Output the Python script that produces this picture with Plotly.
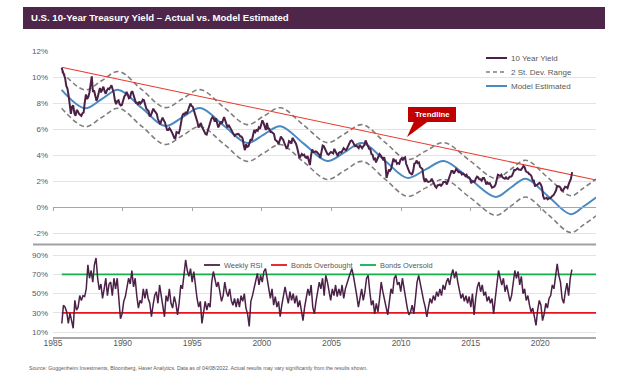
import pandas as pd
import plotly.graph_objects as go

# ---------------- DATA ----------------
# 10-year Treasury yield, monthly (Aug 1985 .. Apr 2022), %
yield_10y = [
    10.75, 10.45, 10.3, 9.95, 9.35,
    9.15, 8.6, 7.7, 7.2, 7.75, 7.85, 7.25, 7.05, 7.5, 7.4, 7.2, 7.15,
    7.05, 7.25, 7.3, 8.1, 8.7, 8.35, 8.5, 8.85, 9.5, 10.1, 8.9, 9.0,
    8.6, 8.2, 8.45, 8.8, 9.2, 8.85, 9.1, 9.3, 8.95, 8.75, 9.0, 9.15,
    9.1, 9.25, 9.4, 9.1, 8.8, 8.2, 7.95, 8.2, 8.25, 7.95, 7.85, 7.9,
    8.3, 8.55, 8.65, 8.9, 8.7, 8.4, 8.45, 8.85, 8.95, 8.65, 8.3, 8.05,
    8.05, 7.9, 8.15, 8.0, 8.1, 8.3, 8.25, 7.85, 7.6, 7.5, 7.4, 7.0,
    7.1, 7.35, 7.6, 7.45, 7.35, 7.2, 6.8, 6.55, 6.4, 6.7, 6.9, 6.7,
    6.55, 6.2, 5.95, 5.95, 6.1, 5.95, 5.8, 5.6, 5.35, 5.3, 5.8, 5.75,
    5.7, 6.05, 6.6, 7.05, 7.2, 7.15, 7.35, 7.2, 7.5, 7.8, 8.0, 7.8,
    7.75, 7.45, 7.2, 7.05, 6.6, 6.15, 6.3, 6.5, 6.2, 6.0, 5.9, 5.65,
    5.6, 5.9, 6.3, 6.55, 6.8, 6.95, 6.85, 6.6, 6.85, 6.5, 6.15, 6.35,
    6.6, 6.45, 6.75, 6.95, 6.7, 6.45, 6.15, 6.35, 6.2, 5.95, 5.85, 5.75,
    5.5, 5.6, 5.65, 5.65, 5.6, 5.45, 5.45, 5.3, 4.75, 4.4, 4.85, 4.65,
    4.7, 5.05, 5.25, 5.15, 5.6, 5.95, 5.8, 5.95, 5.9, 6.15, 6.05, 6.35,
    6.7, 6.5, 6.2, 5.95, 6.5, 6.05, 6.05, 5.8, 5.8, 5.7, 5.65, 5.2,
    5.15, 5.05, 4.85, 5.2, 5.45, 5.3, 5.2, 4.95, 4.7, 4.5, 4.7, 5.1,
    5.05, 4.9, 5.35, 5.2, 5.15, 4.9, 4.6, 4.2, 3.8, 3.95, 4.1, 4.0,
    4.05, 3.85, 3.8, 3.95, 3.5, 3.25, 4.0, 4.45, 4.25, 4.3, 4.3, 4.25,
    4.15, 4.05, 3.8, 4.4, 4.75, 4.7, 4.5, 4.25, 4.1, 4.05, 4.2, 4.25,
    4.2, 4.15, 4.5, 4.3, 4.1, 3.95, 4.2, 4.25, 4.2, 4.45, 4.55, 4.45,
    4.4, 4.55, 4.75, 5.0, 5.1, 5.15, 5.05, 4.85, 4.7, 4.75, 4.6, 4.55,
    4.8, 4.7, 4.55, 4.7, 4.8, 5.15, 4.95, 4.65, 4.5, 4.5, 4.1, 4.05,
    3.7, 3.75, 3.45, 3.7, 3.95, 4.1, 4.0, 3.85, 3.7, 3.85, 3.4, 2.25,
    2.55, 2.9, 2.8, 2.95, 3.35, 3.75, 3.55, 3.6, 3.35, 3.4, 3.35, 3.65,
    3.75, 3.65, 3.8, 3.85, 3.35, 3.15, 2.95, 2.65, 2.6, 2.5, 2.8, 3.35,
    3.4, 3.6, 3.4, 3.45, 3.1, 3.0, 2.95, 2.25, 1.95, 2.2, 2.0, 1.95,
    1.95, 2.0, 2.2, 2.0, 1.75, 1.6, 1.5, 1.7, 1.7, 1.75, 1.65, 1.75,
    1.95, 1.95, 1.95, 1.75, 2.0, 2.35, 2.6, 2.8, 2.8, 2.6, 2.75, 2.95,
    2.85, 2.7, 2.72, 2.68, 2.52, 2.6, 2.52, 2.4, 2.5, 2.3, 2.3, 2.2,
    1.85, 2.0, 2.0, 1.95, 2.2, 2.35, 2.3, 2.15, 2.15, 2.05, 2.25, 2.25,
    2.05, 1.75, 1.9, 1.8, 1.85, 1.6, 1.5, 1.55, 1.6, 1.75, 2.15, 2.5,
    2.45, 2.42, 2.5, 2.3, 2.25, 2.2, 2.3, 2.2, 2.2, 2.35, 2.35, 2.4,
    2.6, 2.87, 2.85, 2.9, 3.0, 2.9, 2.88, 2.88, 3.02, 3.18, 3.1, 2.8,
    2.7, 2.68, 2.55, 2.52, 2.38, 2.05, 2.05, 1.6, 1.7, 1.72, 1.82, 1.88,
    1.75, 1.5, 0.85, 0.65, 0.68, 0.72, 0.6, 0.68, 0.68, 0.8, 0.88, 0.93,
    1.08, 1.28, 1.62, 1.63, 1.6, 1.5, 1.3, 1.28, 1.4, 1.58, 1.55, 1.47,
    1.78, 1.95, 2.2, 2.7,
]
yield_start = "1985-08-01"

# Model estimate and 2 st. dev. range (read at extremes / inflections)
model_dates = [
    "1985-08-15", "1987-04-20", "1988-07-01", "1989-09-15", "1991-05-20",
    "1993-01-20", "1994-04-25", "1995-07-30", "1997-04-05", "1998-12-10",
    "2000-02-20", "2001-05-01", "2003-01-05", "2004-09-10", "2005-12-15",
    "2007-03-20", "2008-10-30", "2010-06-15", "2011-10-10", "2013-01-30",
    "2014-12-10", "2016-10-20", "2017-11-15", "2018-12-15", "2020-07-30",
    "2022-03-10", "2023-02-05", "2024-01-01",
]
model_est = [9.05, 7.63, 8.34, 9.05, 7.65, 6.26, 6.95, 7.65, 6.30, 4.95,
             5.60, 6.25, 4.90, 3.56, 4.25, 4.95, 3.60, 2.26, 2.91, 3.56,
             2.17, 0.79, 1.50, 2.20, 0.83, -0.54, 0.05, 0.75]
band_upper = [10.47, 9.05, 9.76, 10.47, 9.07, 7.68, 8.37, 9.07, 7.72, 6.37,
              7.02, 7.67, 6.32, 4.98, 5.67, 6.37, 5.02, 3.68, 4.33, 4.98,
              3.59, 2.21, 2.92, 3.62, 2.25, 0.88, 1.47, 2.17]
band_lower = [7.63, 6.21, 6.92, 7.63, 6.23, 4.84, 5.53, 6.23, 4.88, 3.53,
              4.18, 4.83, 3.48, 2.14, 2.83, 3.53, 2.18, 0.84, 1.49, 2.14,
              0.75, -0.63, 0.08, 0.78, -0.59, -1.96, -1.37, -0.67]

trend_dates = ["1985-08-15", "2024-01-01"]
trend_values = [10.8, 2.1]

# Weekly RSI (sampled evenly from Aug 1985 to Apr 2022), %
weekly_rsi = [
    19, 38, 36, 31, 19, 30, 22, 14, 43, 33, 36, 48, 43, 48, 47, 55, 80, 66, 74, 62,
    80, 87, 66, 54, 60, 45, 55, 66, 48, 60, 62, 48, 66, 55, 66, 48, 24, 29, 42, 47,
    59, 66, 60, 74, 57, 66, 48, 35, 43, 40, 55, 45, 55, 45, 40, 26, 38, 48, 52, 40,
    59, 48, 33, 26, 48, 42, 55, 40, 35, 47, 40, 28, 40, 59, 55, 73, 85, 74, 68, 76,
    62, 73, 55, 45, 36, 42, 19, 31, 42, 33, 40, 36, 62, 73, 66, 57, 62, 52, 42, 48,
    62, 52, 47, 55, 43, 38, 45, 36,
    45, 36, 48, 42, 50, 35, 29, 16, 42, 48, 55, 62, 71, 59, 69, 62, 73, 76, 66, 52,
    45, 55, 38, 47, 36, 42, 26, 38, 48, 57, 48, 40, 52, 43, 50, 40, 48, 36, 43, 33,
    22, 36, 45, 55, 48, 59, 36, 29, 42, 52, 62, 55, 66, 48, 69, 62, 52, 43, 55, 48,
    59, 47, 55, 48, 59, 45, 55, 62, 66, 71, 76, 68, 59, 48, 36, 48, 55, 43, 52, 66,
    69, 52, 38, 43, 29, 40, 31, 45, 62, 52, 42, 36, 28, 45, 55, 50, 66, 69, 59, 62,
    52, 66, 55, 43, 35, 28, 31, 38, 29,
    45, 62, 69, 59, 52, 43, 36, 26, 36, 45, 40, 48, 43, 52, 47, 55, 48, 59, 54, 62,
    66, 59, 69, 75, 66, 73, 62, 52, 45, 50, 42, 48, 40, 47, 36, 50, 28, 45, 57, 62,
    52, 59, 48, 52, 42, 47, 40, 45, 29, 45, 61, 74, 66, 59, 66, 52, 59, 48, 42, 48,
    62, 74, 66, 73, 59, 68, 50, 55, 43, 48, 38, 31, 35, 26, 17, 33, 43, 38, 22, 29,
    40, 35, 45, 48, 59, 55, 69, 81, 69, 62, 45, 40, 52, 61, 48, 66, 75,
]
rsi_start, rsi_end = "1985-08-20", "2022-04-08"
rsi_level_dates = ["1985-08-20", "2024-01-01"]
bonds_overbought = [30, 30]
bonds_oversold = [70, 70]

top_ticks = [-2, 0, 2, 4, 6, 8, 10, 12]
top_ticktext = ["-2%", "0%", "2%", "4%", "6%", "8%", "10%", "12%"]
bot_ticks = [10, 30, 50, 70, 90]
bot_ticktext = ["10%", "30%", "50%", "70%", "90%"]

title_text = "U.S. 10-Year Treasury Yield \u2013 Actual vs. Model Estimated"
source_text = ("Source: Guggenheim Investments, Bloomberg, Haver Analytics. Data as of 04/08/2022. "
               "Actual results may vary significantly from the results shown.")

# ---------------- LAYOUT HELPERS ----------------
W, H = 624, 372
L, R, T, B = 53, 28, 51, 35
PW, PH = W - L - R, H - T - B


def px(x):
    return (x - L) / PW


def py(y):
    return (H - B - y) / PH


FONT = "Liberation Sans, Arial, sans-serif"
PURPLE = "#4b2147"
BLUE = "#4a89c2"
GRAY_D = "#7f7f7f"
RED_T = "#e8392f"
RED = "#e8141b"
GREEN = "#13b04b"
LBL = "#595959"

top_dom = [0.318, 1.0]
top_rng = [-3, 12.05]
bot_dom = [0.0, 0.32]
bot_rng = [5, 100]
x_rng = ["1985-01-01", "2024-01-01"]

yield_dates = pd.date_range(yield_start, periods=len(yield_10y), freq="MS") + pd.Timedelta(days=14)
rsi_dates = pd.date_range(rsi_start, rsi_end, periods=len(weekly_rsi))

fig = go.Figure()
fig.add_trace(go.Scatter(x=model_dates, y=band_upper, mode="lines",
                         line=dict(color=GRAY_D, width=1.6, dash="5px,3px", shape="spline"),
                         xaxis="x", yaxis="y"))
fig.add_trace(go.Scatter(x=model_dates, y=band_lower, mode="lines",
                         line=dict(color=GRAY_D, width=1.6, dash="5px,3px", shape="spline"),
                         xaxis="x", yaxis="y"))
fig.add_trace(go.Scatter(x=trend_dates, y=trend_values, mode="lines",
                         line=dict(color=RED_T, width=1.1), xaxis="x", yaxis="y"))
fig.add_trace(go.Scatter(x=model_dates, y=model_est, mode="lines",
                         line=dict(color=BLUE, width=2, shape="spline"), xaxis="x", yaxis="y"))
fig.add_trace(go.Scatter(x=yield_dates, y=yield_10y, mode="lines",
                         line=dict(color=PURPLE, width=2), xaxis="x", yaxis="y"))

fig.add_trace(go.Scatter(x=rsi_level_dates, y=bonds_overbought, mode="lines",
                         line=dict(color=RED, width=1.6), xaxis="x2", yaxis="y2"))
fig.add_trace(go.Scatter(x=rsi_level_dates, y=bonds_oversold, mode="lines",
                         line=dict(color=GREEN, width=1.6), xaxis="x2", yaxis="y2"))
fig.add_trace(go.Scatter(x=rsi_dates, y=weekly_rsi, mode="lines",
                         line=dict(color=PURPLE, width=1.5), xaxis="x2", yaxis="y2"))

zero_pos = top_dom[0] + (0 - top_rng[0]) / (top_rng[1] - top_rng[0]) * (top_dom[1] - top_dom[0])

axis_font = dict(family=FONT, size=8, color=LBL)
fig.update_layout(
    width=W, height=H, margin=dict(l=L, r=R, t=T, b=B),
    paper_bgcolor="white", plot_bgcolor="white", showlegend=False,
    hovermode=False, font=dict(family=FONT, color=LBL),
    xaxis=dict(type="date", range=x_rng, domain=[0, 1], anchor="free", position=zero_pos,
               showline=True, linecolor="#a6a6a6", linewidth=1.2, ticks="outside", ticklen=3,
               tickcolor="#a6a6a6", tick0="1985-01-01", dtick="M60", showticklabels=False,
               showgrid=False, zeroline=False),
    yaxis=dict(domain=top_dom, range=top_rng, anchor="x", tickvals=top_ticks, ticktext=top_ticktext,
               showgrid=True, gridcolor="#e3e3e3", gridwidth=1.2, zeroline=False, showline=False,
               tickfont=axis_font, ticks="", ticklabelstandoff=4),
    xaxis2=dict(type="date", range=x_rng, domain=[0, 1], anchor="y2",
                showline=True, linecolor="#a6a6a6", linewidth=1.5, ticks="outside", ticklen=2,
                tickcolor="#a6a6a6", tick0="1985-01-01", dtick="M60", tickformat="%Y",
                tickfont=dict(family=FONT, size=8.5, color=LBL), showgrid=False, zeroline=False,
                ticklabelstandoff=-5),
    yaxis2=dict(domain=bot_dom, range=bot_rng, anchor="x2", tickvals=bot_ticks, ticktext=bot_ticktext,
                showgrid=True, gridcolor="#e3e3e3", gridwidth=1.2, zeroline=False, showline=False,
                tickfont=axis_font, ticks="", ticklabelstandoff=4),
)

shapes = []
annotations = []

# Title bar
shapes.append(dict(type="rect", xref="paper", yref="paper", x0=px(23), x1=px(605), y0=py(29), y1=py(7),
                   fillcolor="#4e2649", line=dict(width=0), layer="above"))
annotations.append(dict(xref="paper", yref="paper", x=px(29), y=py(18), xanchor="left", yanchor="middle",
                        text="<b>" + title_text + "</b>", showarrow=False,
                        font=dict(family=FONT, size=9.6, color="white")))

# Separator between panels
shapes.append(dict(type="line", xref="paper", yref="paper", x0=px(33), x1=px(596), y0=py(244.5), y1=py(244.5),
                   line=dict(color="#a0a0a0", width=2.2)))

# Top legend
top_leg = [("10 Year Yield", PURPLE, "solid", 2), ("2 St. Dev. Range", GRAY_D, "4px,3px", 1.6),
           ("Model Estimated", BLUE, "solid", 2)]
for i, (lab, col, dash, w) in enumerate(top_leg):
    yy = 58 + i * 14
    shapes.append(dict(type="line", xref="paper", yref="paper", x0=px(486), x1=px(507), y0=py(yy), y1=py(yy),
                       line=dict(color=col, width=w, dash=dash)))
    annotations.append(dict(xref="paper", yref="paper", x=px(508.5), y=py(yy), xanchor="left", yanchor="middle",
                            text=lab, showarrow=False, font=dict(family=FONT, size=8, color=LBL)))

# Bottom legend
bot_leg = [("Weekly RSI", PURPLE, 204, 220), ("Bonds Overbought", RED, 271, 287), ("Bonds Oversold", GREEN, 360, 376)]
for lab, col, x0, x1 in bot_leg:
    shapes.append(dict(type="line", xref="paper", yref="paper", x0=px(x0), x1=px(x1), y0=py(265), y1=py(265),
                       line=dict(color=col, width=1.8)))
    annotations.append(dict(xref="paper", yref="paper", x=px(x1 + 1.5), y=py(265), xanchor="left", yanchor="middle",
                            text=lab, showarrow=False, font=dict(family=FONT, size=7.4, color=LBL)))

# Trendline callout
shapes.append(dict(type="rect", xref="paper", yref="paper", x0=px(408), x1=px(456), y0=py(122), y1=py(107),
                   fillcolor="#c00000", line=dict(width=0)))
shapes.append(dict(type="path", xref="paper", yref="paper",
                   path=f"M {px(414)} {py(121.5)} L {px(428)} {py(121.5)} L {px(407)} {py(137)} Z",
                   fillcolor="#c00000", line=dict(width=0)))
annotations.append(dict(xref="paper", yref="paper", x=px(432), y=py(114.5), xanchor="center", yanchor="middle",
                        text="<b>Trendline</b>", showarrow=False, font=dict(family=FONT, size=7.8, color="white")))

# Source
annotations.append(dict(xref="paper", yref="paper", x=px(27), y=py(367.5), xanchor="left", yanchor="middle",
                        text=source_text, showarrow=False, font=dict(family=FONT, size=5.2, color=LBL)))

fig.update_layout(shapes=shapes, annotations=annotations)
fig.write_html("out.html", config={"displayModeBar": False},
               post_script="document.body.style.margin='0';document.body.style.overflow='hidden';")
